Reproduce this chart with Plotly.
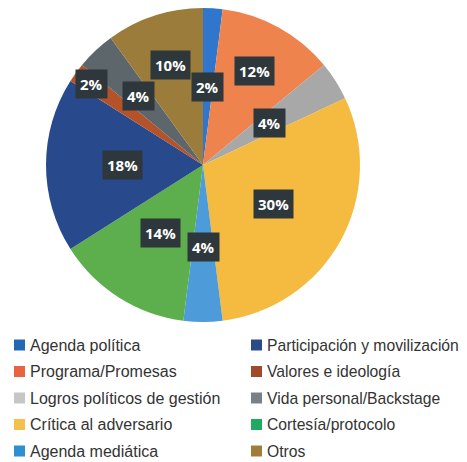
import math
import plotly.graph_objects as go

# slices, clockwise from 12 o'clock
categorias = ["Agenda política", "Programa/Promesas", "Logros políticos de gestión",
              "Crítica al adversario", "Agenda mediática", "Cortesía/protocolo",
              "Participación y movilización", "Valores e ideología",
              "Vida personal/Backstage", "Otros"]
porcentajes = [2, 12, 4, 30, 4, 14, 18, 2, 4, 10]
colores = ["#2f76cc", "#ee834e", "#a8a8a8", "#f4bb40", "#4d9bd8", "#5daf4e",
           "#284a8c", "#b4532a", "#5d676b", "#9c7c3a"]

# legend columns (the legend swatches in the original use slightly different tints)
col_izq = ["Agenda política", "Programa/Promesas", "Logros políticos de gestión",
           "Crítica al adversario", "Agenda mediática"]
col_der = ["Participación y movilización", "Valores e ideología",
           "Vida personal/Backstage", "Cortesía/protocolo", "Otros"]
colores_leyenda = {
    "Agenda política": "#2468b2", "Programa/Promesas": "#e8633f",
    "Logros políticos de gestión": "#c6c6c6", "Crítica al adversario": "#f4c04c",
    "Agenda mediática": "#2f8fd0", "Participación y movilización": "#2b4a8a",
    "Valores e ideología": "#a0492b", "Vida personal/Backstage": "#7a8088",
    "Cortesía/protocolo": "#1eaa60", "Otros": "#a07e3a",
}

# radial placement of the boxed labels (fraction of radius)
label_r = [0.5, 0.68, 0.5, 0.51, 0.52, 0.51, 0.51, 0.88, 0.6, 0.67]

# page body has an 8px margin, so the figure is a bit smaller than the window
OFF = 8
W, H = 467 - OFF, 462 - OFF


def fx(px):
    return min(1, max(0, (px - OFF) / W))


def fy(py):
    return min(1, max(0, 1 - (py - OFF) / H))


cx, cy, R = 203, 165, 157

fig = go.Figure()
fig.add_trace(go.Pie(
    labels=categorias, values=porcentajes, sort=False, direction="clockwise",
    rotation=0, textinfo="none", hoverinfo="label+percent",
    marker=dict(colors=colores, line=dict(width=0)),
    domain=dict(x=[fx(cx - R), fx(cx + R)], y=[fy(cy + R), fy(cy - R)]),
    showlegend=False,
))

# boxed percentage labels at each slice's mid angle
total = sum(porcentajes)
acum = 0
anns = []
for v, rf in zip(porcentajes, label_r):
    mid = (acum + v / 2) / total * 2 * math.pi
    acum += v
    px = cx + rf * R * math.sin(mid)
    py = cy - rf * R * math.cos(mid)
    anns.append(dict(
        x=fx(px), y=fy(py), xref="paper", yref="paper", showarrow=False,
        xanchor="center", yanchor="middle",
        text=f"<b>{v}%</b>", bgcolor="#2e373b", borderpad=4,
        font=dict(family="Open Sans", size=15, color="white"),
    ))

# two-column legend drawn as swatches + text
shapes = []
for x0, col, fs in ((14, col_izq, 16), (251, col_der, 15.7)):
    for i, nombre in enumerate(col):
        yc = 345 + i * 26.5
        shapes.append(dict(
            type="rect", xref="paper", yref="paper",
            x0=fx(x0), x1=fx(x0 + 11), y0=fy(yc + 5.5), y1=fy(yc - 5.5),
            fillcolor=colores_leyenda[nombre], line=dict(width=0),
        ))
        anns.append(dict(
            x=fx(x0 + 14), y=fy(yc), xref="paper", yref="paper",
            xanchor="left", yanchor="middle", showarrow=False, text=nombre,
            font=dict(family="Liberation Sans", size=fs, color="#333333"),
        ))

fig.update_layout(
    width=W, height=H, margin=dict(l=0, r=0, t=0, b=0),
    paper_bgcolor="white", showlegend=False,
    annotations=anns, shapes=shapes,
)

fig.write_html("out.html")
